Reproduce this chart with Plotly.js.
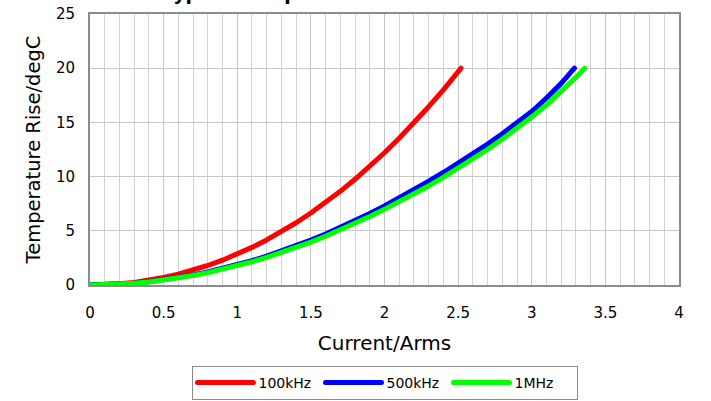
<!DOCTYPE html>
<html>
<head>
<meta charset="utf-8">
<script src="https://cdn.plot.ly/plotly-3.0.1.min.js"></script>
<style>
  html, body { margin: 0; padding: 0; background: #ffffff; }
  #chart { width: 711px; height: 401px; }
  #chart .js-line { stroke-linecap: round !important; stroke-linejoin: round !important; }
</style>
</head>
<body>
<div id="chart"></div>
<script>
// ---- data ----
const seriesNames = ["100kHz", "500kHz", "1MHz"];

const current100k = [0, 0.1, 0.2, 0.3, 0.4, 0.5, 0.6, 0.7, 0.8, 0.9, 1.0, 1.1, 1.2, 1.3, 1.4, 1.5, 1.6, 1.7, 1.8, 1.9, 2.0, 2.1, 2.2, 2.3, 2.4, 2.5, 2.52];
const rise100k    = [0, 0.03, 0.11, 0.24, 0.44, 0.69, 1.00, 1.37, 1.80, 2.29, 2.85, 3.47, 4.16, 4.92, 5.74, 6.64, 7.60, 8.64, 9.75, 10.94, 12.20, 13.54, 14.96, 16.45, 18.00, 19.65, 20.00];

const current500k = [0, 0.1, 0.2, 0.3, 0.4, 0.5, 0.6, 0.7, 0.8, 0.9, 1.0, 1.1, 1.2, 1.3, 1.4, 1.5, 1.6, 1.7, 1.8, 1.9, 2.0, 2.1, 2.2, 2.3, 2.4, 2.5, 2.6, 2.7, 2.8, 2.9, 3.0, 3.1, 3.2, 3.29];
const rise500k    = [0, 0.02, 0.08, 0.17, 0.30, 0.47, 0.68, 0.92, 1.20, 1.51, 1.86, 2.24, 2.66, 3.12, 3.61, 4.14, 4.70, 5.30, 5.93, 6.60, 7.29, 8.02, 8.78, 9.57, 10.38, 11.22, 12.10, 13.00, 13.95, 14.95, 16.00, 17.25, 18.60, 20.00];

const current1M = [0, 0.1, 0.2, 0.3, 0.4, 0.5, 0.6, 0.7, 0.8, 0.9, 1.0, 1.1, 1.2, 1.3, 1.4, 1.5, 1.6, 1.7, 1.8, 1.9, 2.0, 2.1, 2.2, 2.3, 2.4, 2.5, 2.6, 2.7, 2.8, 2.9, 3.0, 3.1, 3.2, 3.3, 3.36];
const rise1M    = [0, 0.02, 0.07, 0.16, 0.28, 0.44, 0.64, 0.87, 1.14, 1.44, 1.77, 2.14, 2.54, 2.98, 3.45, 3.96, 4.50, 5.08, 5.69, 6.32, 6.98, 7.67, 8.38, 9.14, 9.93, 10.75, 11.60, 12.50, 13.45, 14.45, 15.50, 16.60, 17.80, 19.15, 20.00];

const xTickValues = [0, 0.5, 1, 1.5, 2, 2.5, 3, 3.5, 4];
const xTickLabels = ["0", "0.5", "1", "1.5", "2", "2.5", "3", "3.5", "4"];
const yTickValues = [0, 5, 10, 15, 20, 25];
const yTickLabels = ["0", "5", "10", "15", "20", "25"];

const chartTitle = "Typical Temperature Rise vs Current";
const xTitle = "Current/Arms";
const yTitle = "Temperature Rise/degC";

// ---- styling ----
const colors = ["#ff0000", "#0000ff", "#00ff00"];
const FONT = "DejaVu Sans, Verdana, sans-serif";

const xs = [current100k, current500k, current1M];
const ys = [rise100k, rise500k, rise1M];

const traces = seriesNames.map((name, i) => ({
  type: "scatter",
  mode: "lines",
  name: name,
  x: xs[i],
  y: ys[i],
  line: { color: colors[i], width: 5, shape: "linear" },
  hoverinfo: "skip"
}));

const layout = {
  width: 711,
  height: 401,
  paper_bgcolor: "#ffffff",
  plot_bgcolor: "#ffffff",
  margin: { l: 90, r: 32, t: 14, b: 116, pad: 0, autoexpand: false },
  font: { family: FONT, color: "#000000", size: 15 },
  showlegend: true,
  title: {
    text: chartTitle,
    font: { family: FONT, size: 18.7, color: "#000000", weight: "bold" },
    xref: "container", x: 0.497, xanchor: "center",
    yref: "container", y: 1, yanchor: "bottom"
  },
  xaxis: {
    range: [0, 4],
    tickmode: "array",
    tickvals: xTickValues,
    ticktext: xTickLabels,
    ticks: "outside", ticklen: 13, tickcolor: "rgba(0,0,0,0)",
    tickfont: { family: FONT, size: 15, color: "#000000" },
    showgrid: true, gridcolor: "#c6c6c6", gridwidth: 1,
    minor: { dtick: 0.1, showgrid: true, gridcolor: "#d3d3d3", gridwidth: 1, ticks: "" },
    showline: true, linecolor: "#8c8c8c", linewidth: 2, mirror: true,
    zeroline: false,
    fixedrange: true,
    automargin: false,
    title: { text: xTitle, font: { family: FONT, size: 20, color: "#000000" }, standoff: 15 }
  },
  yaxis: {
    range: [0, 25],
    tickmode: "array",
    tickvals: yTickValues,
    ticktext: yTickLabels,
    ticks: "outside", ticklen: 10, tickcolor: "rgba(0,0,0,0)",
    tickfont: { family: FONT, size: 15, color: "#000000" },
    showgrid: true, gridcolor: "#c6c6c6", gridwidth: 1,
    showline: true, linecolor: "#8c8c8c", linewidth: 2, mirror: true,
    zeroline: false,
    fixedrange: true,
    automargin: false,
    title: { text: yTitle, font: { family: FONT, size: 19.5, color: "#000000" }, standoff: 10 }
  },
  legend: {
    orientation: "h",
    x: 0.5, xanchor: "center",
    y: -0.4244, yanchor: "bottom",
    bordercolor: "#8c8c8c", borderwidth: 1,
    bgcolor: "#ffffff",
    font: { family: FONT, size: 14, color: "#000000" },
    itemwidth: 56,
    entrywidth: 57, entrywidthmode: "pixels",
    tracegroupgap: 0
  }
};

Plotly.newPlot("chart", traces, layout, { staticPlot: true, displayModeBar: false });
</script>
</body>
</html>
